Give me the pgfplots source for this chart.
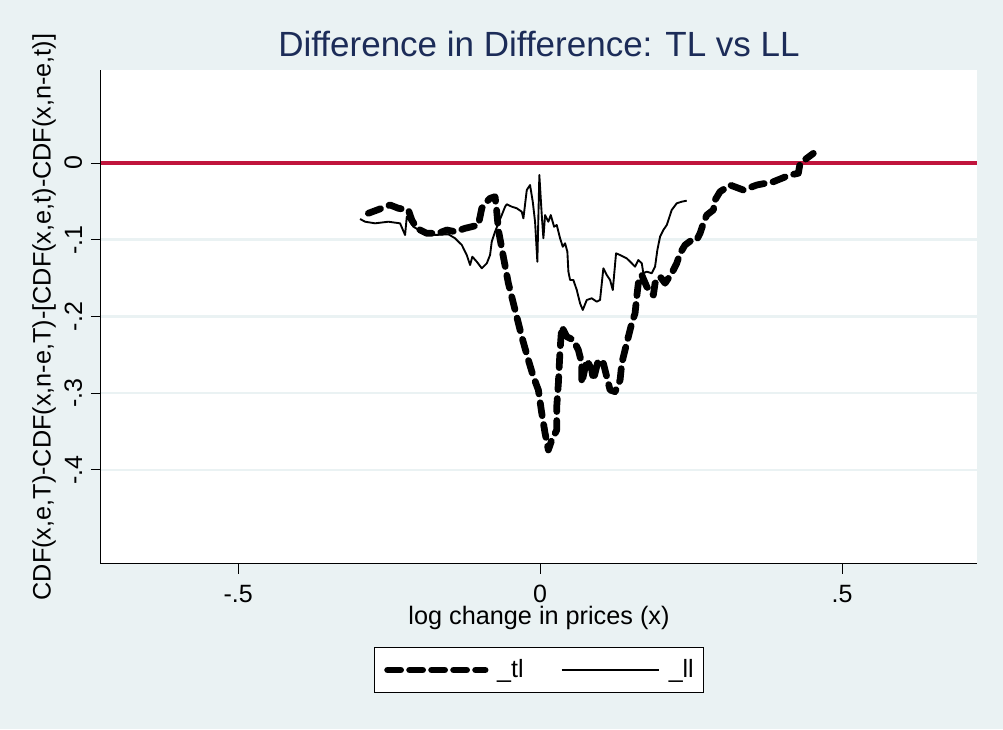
\documentclass[border=0pt]{standalone}
\usepackage{fontspec}
\setmainfont{Liberation Sans}
\usepackage{pgfplots}
\pgfplotsset{compat=1.18}
\definecolor{bgc}{RGB}{234,242,243}
\definecolor{titlec}{RGB}{28,44,88}
\definecolor{redl}{RGB}{192,20,60}
\pgfplotstableread{
x y
-0.2843 -0.0655
-0.2621 -0.0590
-0.2483 -0.0547
-0.2346 -0.0590
-0.218 -0.0612
-0.2124 -0.0743
-0.2041 -0.0851
-0.1876 -0.0916
-0.1684 -0.0916
-0.1545 -0.0873
-0.1407 -0.0895
-0.1242 -0.0851
-0.1131 -0.0830
-0.1022 -0.0808
-0.0965 -0.0590
-0.0882 -0.0504
-0.0828 -0.0460
-0.0745 -0.0439
-0.0717 -0.0635
-0.069 -0.0873
-0.0608 -0.1221
-0.0525 -0.1567
-0.0414 -0.1915
-0.0303 -0.2263
-0.0194 -0.2567
-0.0111 -0.2784
-0.0028 -0.2958
0.0028 -0.3261
0.0083 -0.3522
0.0137 -0.3739
0.0194 -0.3609
0.0276 -0.3479
0.0276 -0.3175
0.0303 -0.2870
0.0331 -0.2436
0.0359 -0.2133
0.0442 -0.2263
0.0551 -0.2306
0.0634 -0.2436
0.069 -0.2610
0.069 -0.2870
0.0773 -0.2567
0.0856 -0.2697
0.0882 -0.2827
0.0965 -0.2567
0.1048 -0.2610
0.1104 -0.2784
0.1159 -0.2958
0.1242 -0.2980
0.1325 -0.2827
0.1353 -0.2610
0.1407 -0.2436
0.1462 -0.2263
0.1518 -0.2089
0.1573 -0.1958
0.1601 -0.1742
0.1627 -0.1567
0.1684 -0.1459
0.1767 -0.1612
0.1876 -0.1720
0.1904 -0.1567
0.1987 -0.1481
0.207 -0.1567
0.218 -0.1437
0.2263 -0.1307
0.2318 -0.1177
0.2401 -0.1068
0.2512 -0.1003
0.2594 -0.1003
0.2649 -0.0916
0.2704 -0.0786
0.276 -0.0678
0.2869 -0.0612
0.2897 -0.0482
0.298 -0.0374
0.3146 -0.0287
0.3366 -0.0352
0.3588 -0.0287
0.3863 -0.0244
0.4139 -0.0156
0.4276 -0.0134
0.4305 -0.0004
0.4525 0.0126
}\tl
\pgfplotstableread{
x y
-0.298 -0.0730
-0.2897 -0.0765
-0.2732 -0.0786
-0.2512 -0.0765
-0.2318 -0.0786
-0.2235 -0.0938
-0.2207 -0.0700
-0.2098 -0.0830
-0.1959 -0.0895
-0.1738 -0.0938
-0.1518 -0.0929
-0.1407 -0.0981
-0.1296 -0.1068
-0.1214 -0.1199
-0.1159 -0.1329
-0.1121 -0.1221
-0.1048 -0.1286
-0.0965 -0.1372
-0.0882 -0.1307
-0.0828 -0.1199
-0.08 -0.1025
-0.0745 -0.0895
-0.069 -0.0786
-0.0634 -0.0678
-0.0579 -0.0569
-0.0551 -0.0538
-0.0469 -0.0569
-0.0386 -0.0590
-0.0303 -0.0635
-0.0276 -0.0721
-0.022 -0.0352
-0.0166 -0.0287
-0.0121 -0.0504
-0.0083 -0.0765
-0.0045 -0.1286
-0.0012 -0.0156
0.0028 -0.0678
0.0055 -0.0981
0.0083 -0.0678
0.0137 -0.0765
0.0177 -0.0678
0.0232 -0.0830
0.0276 -0.0808
0.0331 -0.0981
0.0376 -0.1091
0.0414 -0.1046
0.0452 -0.1156
0.0469 -0.1416
0.0497 -0.1524
0.0551 -0.1524
0.0608 -0.1655
0.0662 -0.1828
0.0707 -0.1915
0.0773 -0.1785
0.0856 -0.1763
0.0939 -0.1807
0.0993 -0.1785
0.1048 -0.1372
0.1104 -0.1459
0.1159 -0.1524
0.1204 -0.1655
0.1258 -0.1177
0.1325 -0.1199
0.1435 -0.1242
0.1518 -0.1307
0.1573 -0.1351
0.1627 -0.1264
0.1684 -0.1307
0.171 -0.1437
0.1767 -0.1416
0.1849 -0.1437
0.1904 -0.1351
0.1942 -0.1134
0.1987 -0.0960
0.2041 -0.0873
0.2098 -0.0808
0.218 -0.0612
0.2263 -0.0525
0.2346 -0.0504
0.2429 -0.0491
}\ll
\begin{document}
\begin{tikzpicture}
\fill[bgc] (-40.4pt,-66pt) rectangle (360.8pt,225.6pt);
\begin{axis}[
  at={(0pt,0pt)}, anchor=south west,
  scale only axis, width=350.4pt, height=197.6pt,
  xmin=-0.727, xmax=0.7235, ymin=-0.5225, ymax=0.1212,
  axis x line*=bottom, axis y line*=left,
  axis line style={black, line width=0.4pt},
  axis background/.style={fill=white},
  tick align=outside,
  xtick={-0.5,0,0.5}, xticklabels={-.5,0,.5},
  ytick={-0.4,-0.3,-0.2,-0.1,0}, yticklabels={-.4,-.3,-.2,-.1,0},
  minor tick num=0,
  major tick length=4pt,
  tick style={black, line width=0.4pt},
  ymajorgrids, major grid style={bgc, line width=1pt},
  tick label style={font=\fontsize{10}{12}\selectfont},
  xticklabel style={yshift=-0.8pt},
  yticklabel style={rotate=90, anchor=south},
  xlabel={log change in prices (x)},
  ylabel={CDF(x,e,T)-CDF(x,n-e,T)-[CDF(x,e,t)-CDF(x,n-e,t)]},
  label style={font=\fontsize{10.1}{12}\selectfont},
  xlabel style={at={(axis description cs:0.5,-0.1083)}, anchor=center},
  ylabel style={at={(axis description cs:-0.0651,0.5)}, anchor=center},
  title={Difference in Difference: TL vs LL},
  title style={at={(axis description cs:0.5,1.027)}, anchor=base, yshift=-6pt, font=\fontsize{14}{16}\selectfont, text=titlec},
  legend columns=2,
  legend image code/.code={\draw[#1] (0pt,0pt) -- (39pt,0pt);},
  legend style={at={(axis description cs:0.5,-0.2146)}, anchor=center,
    draw=black, line width=0.4pt, fill=white,
    inner xsep=4pt, inner ysep=4.5pt,
    font=\fontsize{10}{12}\selectfont,
    nodes={inner sep=0pt, anchor=west},
    /tikz/every odd column/.append style={column sep=3.5pt},
    /tikz/every even column/.append style={column sep=14.8pt}},
]
\addplot[redl, line width=1.8pt, forget plot] coordinates {(-0.727,0) (0.7235,0)};
\addplot[black, line width=2.7pt, line cap=round, line join=round, dash pattern=on 5.2pt off 3.6pt] table {\tl};
\addlegendentry{\_tl}
\addplot[black, line width=0.75pt, line join=round] table {\ll};
\addlegendentry{\_ll}
\end{axis}
\pgfresetboundingbox
\path[use as bounding box] (-40.4pt,-66pt) rectangle (360.8pt,225.6pt);
\end{tikzpicture}
\end{document}
